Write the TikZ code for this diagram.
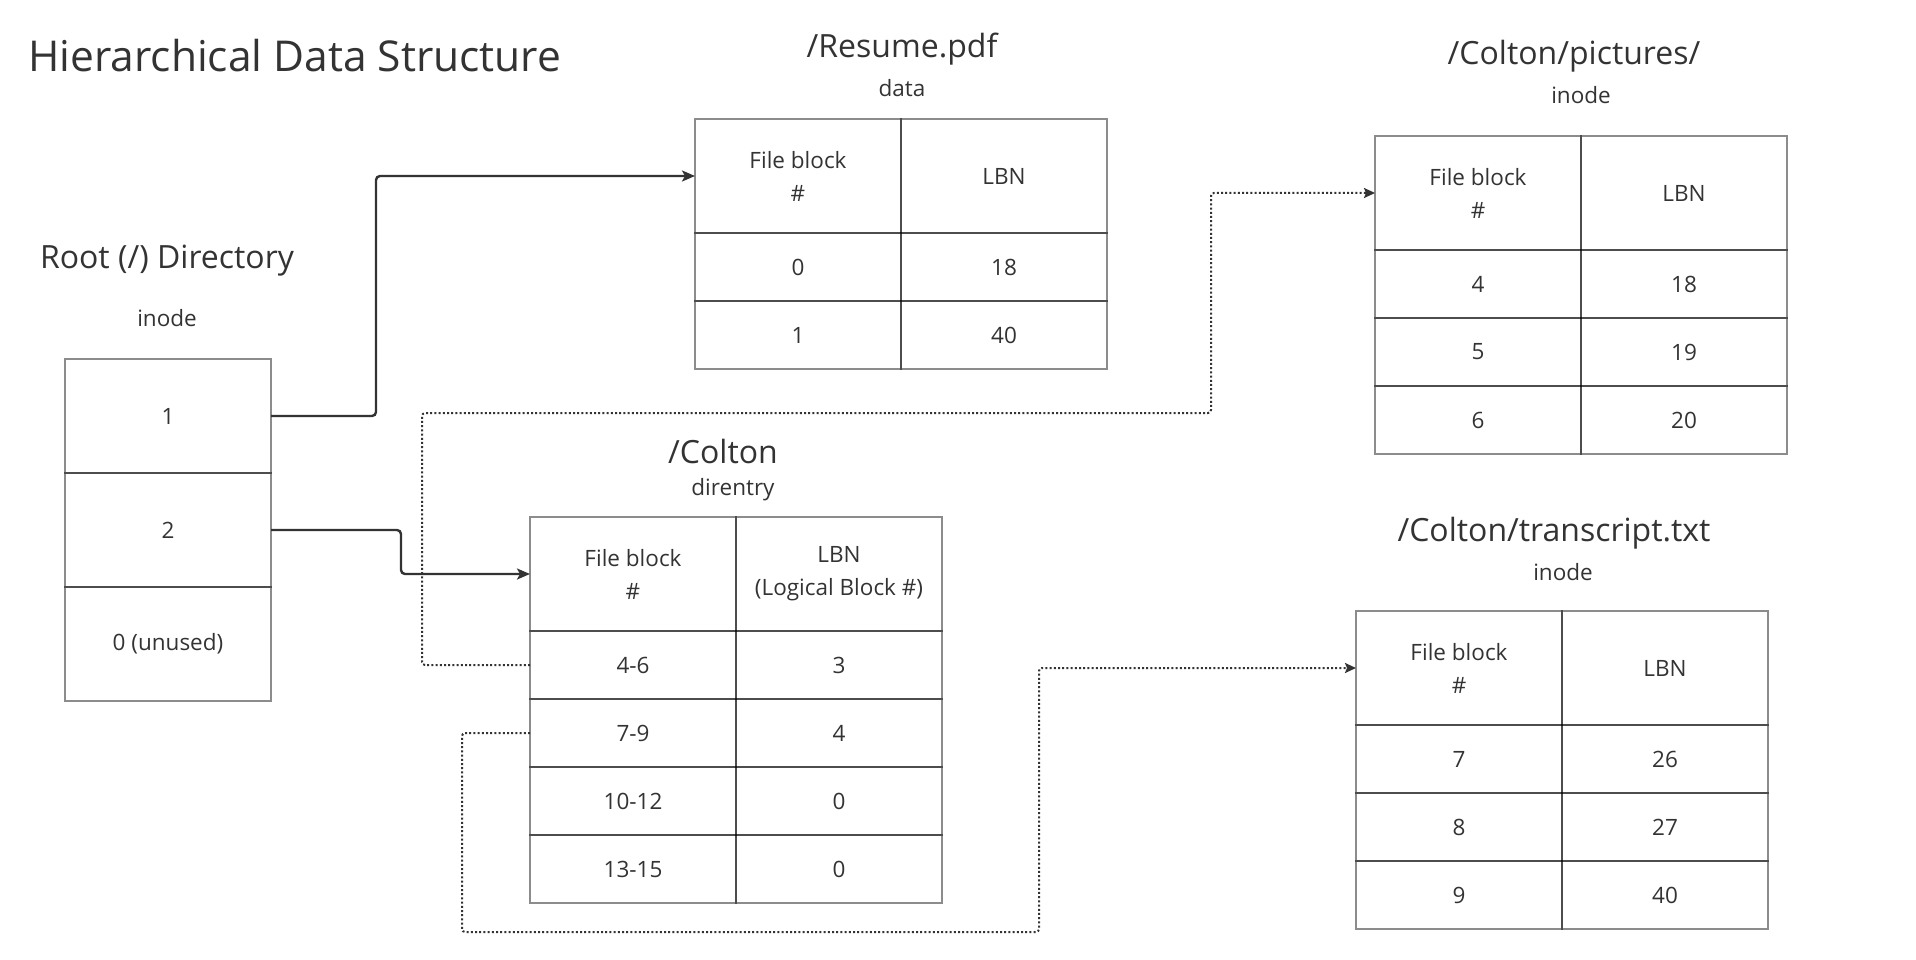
\documentclass[tikz,border=0pt]{standalone}
\usepackage{fontspec}
\setmainfont{Open Sans}
\usetikzlibrary{arrows.meta,positioning}
\definecolor{fsInk}{HTML}{333333}
\definecolor{fsGrid}{HTML}{000000}
\newcommand{\fsCellFont}{\fontsize{22.5}{33}\selectfont}
\newcommand{\fsHeadFont}{\fontsize{32}{38}\selectfont}
\newcommand{\fsTitleFont}{\fontsize{42.5}{50}\selectfont}
\tikzset{
    fsCell/.style={
        rectangle,
        draw=fsGrid,
        draw opacity=0.45,
        line width=1.8pt,
        minimum width=206pt,
        minimum height=68pt,
        inner sep=0pt,
        outer sep=0pt,
        align=center,
        font=\fsCellFont,
        text=fsInk
    },
    fsHead/.style={fsCell, minimum height=114pt},
    % Labels above the tables
    fsName/.style={font=\fsHeadFont, text=fsInk, inner sep=0pt},
    fsKind/.style={font=\fsCellFont, text=fsInk, inner sep=0pt},
    % Connectors
    fsArrow/.style={-{Stealth[length=13pt, width=11pt, inset=3pt]}, line width=2.4pt, draw=fsInk, rounded corners=4pt},
    fsPointer/.style={-{Stealth[length=11pt, width=10pt, inset=2pt]}, line width=2pt, draw=fsInk, dash pattern=on 2pt off 2.2pt, rounded corners=3pt}
}
\begin{document}
\begin{tikzpicture}[x=1pt, y=-1pt]
\useasboundingbox (0,0) rectangle (1916,960);

\node[font=\fsTitleFont, text=fsInk, inner sep=0pt, anchor=base west] (title) at (28,72) {Hierarchical Data Structure};

% Root directory
\node[fsName] (rootName) at (167,261) {Root (/) Directory};
\node[fsKind] (rootKind) at (167,318) {inode};
\node[fsHead, anchor=north west] (root1) at (65,359) {1};
\node[fsHead, below=0pt of root1] (root2) {2};
\node[fsHead, below=0pt of root2] (root3) {0 (unused)};

% /Resume.pdf
\node[fsName] (resName) at (902,49) {/Resume.pdf};
\node[fsKind] (resKind) at (902,88) {data};
\node[fsHead, anchor=north west] (resHa) at (695,119) {File block\\\#};
\node[fsHead, right=0pt of resHa] (resHb) {LBN};
\node[fsCell, below=0pt of resHa] (res0a) {0};
\node[fsCell, right=0pt of res0a] (res0b) {18};
\node[fsCell, below=0pt of res0a] (res1a) {1};
\node[fsCell, right=0pt of res1a] (res1b) {40};

% /Colton
\node[fsName] (colName) at (723,451) {/Colton};
\node[fsKind] (colKind) at (733,490) {direntry};
\node[fsHead, anchor=north west] (colHa) at (530,517) {File block\\\#};
\node[fsHead, right=0pt of colHa] (colHb) {LBN\\(Logical Block \#)};
\node[fsCell, below=0pt of colHa] (col1a) {4-6};
\node[fsCell, right=0pt of col1a] (col1b) {3};
\node[fsCell, below=0pt of col1a] (col2a) {7-9};
\node[fsCell, right=0pt of col2a] (col2b) {4};
\node[fsCell, below=0pt of col2a] (col3a) {10-12};
\node[fsCell, right=0pt of col3a] (col3b) {0};
\node[fsCell, below=0pt of col3a] (col4a) {13-15};
\node[fsCell, right=0pt of col4a] (col4b) {0};

% /Colton/pictures/
\node[fsName] (picName) at (1574,56) {/Colton/pictures/};
\node[fsKind] (picKind) at (1581,95) {inode};
\node[fsHead, anchor=north west] (picHa) at (1375,136) {File block\\\#};
\node[fsHead, right=0pt of picHa] (picHb) {LBN};
\node[fsCell, below=0pt of picHa] (pic1a) {4};
\node[fsCell, right=0pt of pic1a] (pic1b) {18};
\node[fsCell, below=0pt of pic1a] (pic2a) {5};
\node[fsCell, right=0pt of pic2a] (pic2b) {19};
\node[fsCell, below=0pt of pic2a] (pic3a) {6};
\node[fsCell, right=0pt of pic3a] (pic3b) {20};

% /Colton/transcript.txt
\node[fsName] (trnName) at (1554,533) {/Colton/transcript.txt};
\node[fsKind] (trnKind) at (1563,572) {inode};
\node[fsHead, anchor=north west] (trnHa) at (1356,611) {File block\\\#};
\node[fsHead, right=0pt of trnHa] (trnHb) {LBN};
\node[fsCell, below=0pt of trnHa] (trn1a) {7};
\node[fsCell, right=0pt of trn1a] (trn1b) {26};
\node[fsCell, below=0pt of trn1a] (trn2a) {8};
\node[fsCell, right=0pt of trn2a] (trn2b) {27};
\node[fsCell, below=0pt of trn2a] (trn3a) {9};
\node[fsCell, right=0pt of trn3a] (trn3b) {40};

% links
\draw[fsArrow] (root1.east) -- ++(105,0) |- (resHa.west);
\draw[fsArrow] (root2.east) -- ++(130,0) |- (colHa.west);
\draw[fsPointer] (col1a.west) -- ++(-108,0) |- (1211,413) |- (picHa.west);
\draw[fsPointer] (col2a.west) -- ++(-68,0) |- (1039,932) |- (trnHa.west);
\end{tikzpicture}
\end{document}
